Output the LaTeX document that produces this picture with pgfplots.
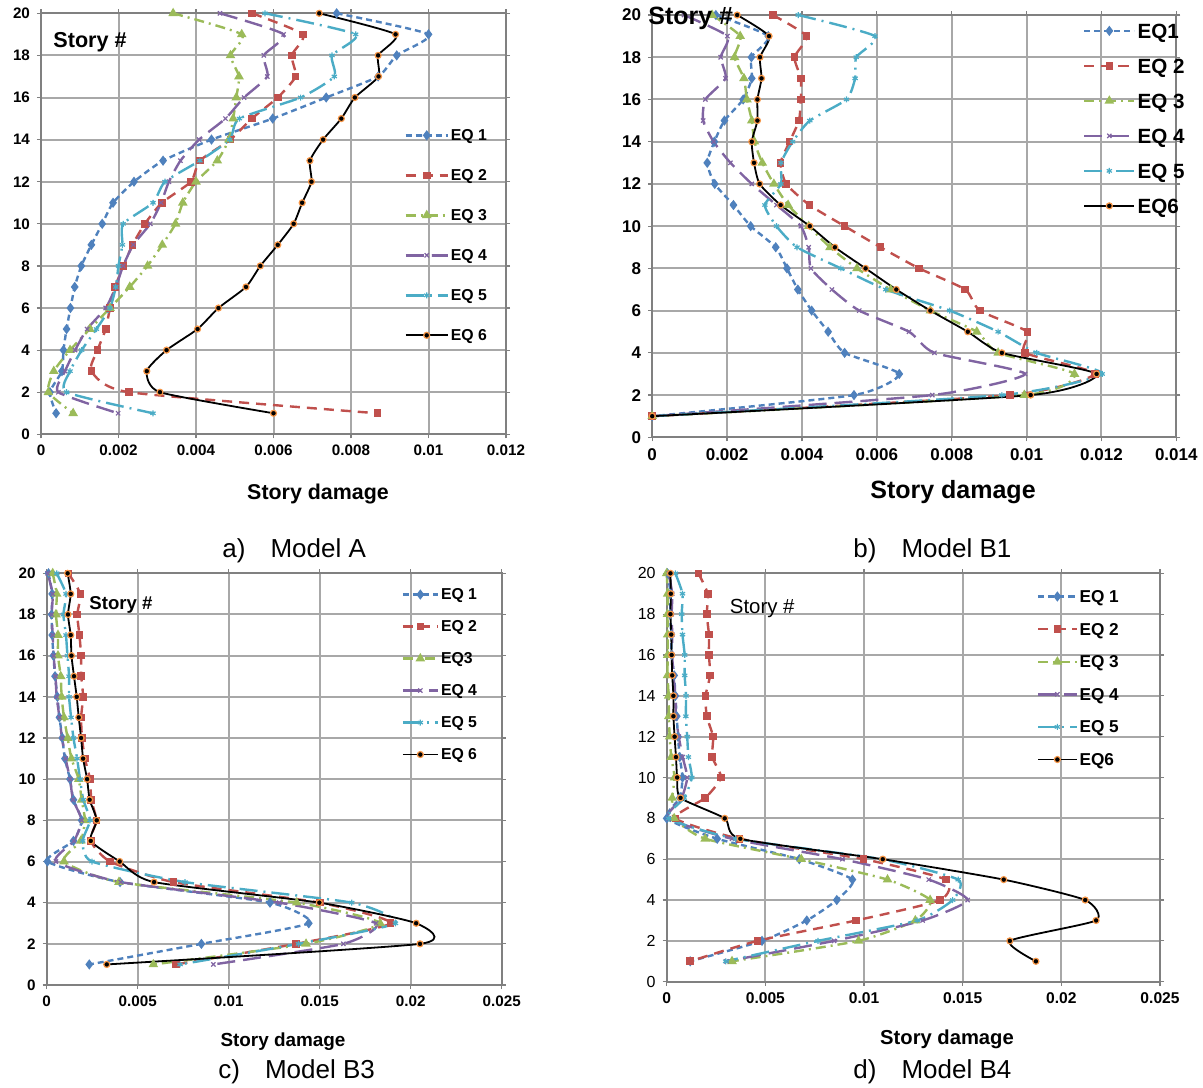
\documentclass[border=0pt]{standalone}
\usepackage{fontspec}
\setmainfont{Liberation Sans}
\usepackage{pgfplots}
\pgfplotsset{compat=1.18}
\definecolor{cA}{HTML}{4F81BD}
\definecolor{cB}{HTML}{C0504D}
\definecolor{cC}{HTML}{9BBB59}
\definecolor{cD}{HTML}{8064A2}
\definecolor{cE}{HTML}{4BACC6}
\definecolor{cF}{HTML}{F79646}
\definecolor{gridg}{HTML}{A8A8A8}
\pgfplotsset{
  storyaxis/.style={scale only axis, anchor=south west,
    ymin=0, ymax=20, ytick={0,2,...,20},
    yticklabels={0,2,4,6,8,10,12,14,16,18,20},
    scaled x ticks=false, scaled y ticks=false,
    grid=major, grid style={gridg, line width=1pt},
    axis line style={gray, line width=1pt},
    tick style={gray, line width=0.6pt}, tick align=outside, major tick length=2pt,
    clip=false, legend cell align=left,
    legend style={draw=none, fill=none, anchor=north west,
      nodes={inner sep=1pt}},
  },
  sm/.style={smooth, tension=0.35},
  eq1/.style={color=cA, line width=1.2pt, dash pattern=on 3pt off 2pt, sm,
    mark=diamond*, mark size=1.6pt, mark options={solid}},
  eq2/.style={color=cB, line width=1.2pt, dash pattern=on 5pt off 3.5pt, sm,
    mark=square*, mark size=1.3pt, mark options={solid}},
  eq3/.style={color=cC, line width=1.2pt, dash pattern=on 5pt off 2.5pt on 1pt off 2.5pt, sm,
    mark=triangle*, mark size=1.6pt, mark options={solid}},
  eq4/.style={color=cD, line width=1.2pt, dash pattern=on 9pt off 4pt, sm,
    mark=x, mark size=1.5pt, mark options={solid, line width=0.6pt}},
  eq5/.style={color=cE, line width=1.2pt, dash pattern=on 9pt off 3pt on 1pt off 3pt, sm,
    mark=asterisk, mark size=1.5pt, mark options={solid, line width=0.6pt}},
  eq6/.style={color=black, line width=0.9pt, solid, sm,
    mark=*, mark size=1.5pt, mark options={solid, fill=black, draw=cF, line width=0.6pt}},
}
\begin{document}
\begin{tikzpicture}
\useasboundingbox (0pt,0pt) rectangle (601.5pt,-543.5pt);

% ---------------- a) Model A
\begin{axis}[storyaxis, at={(20.5pt,-217.15pt)}, width=232.5pt, height=210.5pt,
  xmin=0, xmax=0.012, xtick={0,0.002,0.004,0.006,0.008,0.01,0.012},
  xticklabels={0,0.002,0.004,0.006,0.008,0.01,0.012},
  ticklabel style={font=\bfseries\fontsize{7.6}{9}\selectfont},
  legend image code/.code={\draw[mark repeat=2,mark phase=2,#1] plot coordinates {(0pt,0pt)(10.5pt,0pt)(21pt,0pt)};},
  legend style={at={(0.768,0.742)}, font=\bfseries\fontsize{7.9}{9}\selectfont,
    nodes={text height=6pt, text depth=1pt}, row sep=11pt,
    /tikz/every even column/.append style={column sep=1pt}},
]
\addplot[eq1] coordinates {(0.00763,20)(0.0100,19)(0.00918,18)(0.0087,17)(0.00736,16)(0.00598,15)(0.0044,14)(0.00315,13)(0.0024,12)(0.00186,11)(0.00158,10)(0.0013,9)(0.00104,8)(0.00087,7)(0.00076,6)(0.00066,5)(0.00058,4)(0.00054,3)(0.00023,2)(0.00039,1)};
\addlegendentry{EQ 1}
\addplot[eq2] coordinates {(0.00545,20)(0.00676,19)(0.00647,18)(0.00657,17)(0.00611,16)(0.00544,15)(0.00489,14)(0.0041,13)(0.00387,12)(0.00312,11)(0.00268,10)(0.00236,9)(0.00213,8)(0.00191,7)(0.00178,6)(0.00167,5)(0.00146,4)(0.0013,3)(0.00227,2)(0.00868,1)};
\addlegendentry{EQ 2}
\addplot[eq3] coordinates {(0.00341,20)(0.00518,19)(0.00489,18)(0.00511,17)(0.00504,16)(0.00496,15)(0.00485,14)(0.00455,13)(0.004,12)(0.00366,11)(0.00347,10)(0.00313,9)(0.00275,8)(0.00229,7)(0.00178,6)(0.00126,5)(0.00075,4)(0.00033,3)(0.00019,2)(0.00083,1)};
\addlegendentry{EQ 3}
\addplot[eq4] coordinates {(0.00462,20)(0.00626,19)(0.00575,18)(0.00584,17)(0.00524,16)(0.00476,15)(0.00408,14)(0.0036,13)(0.0033,12)(0.0031,11)(0.00282,10)(0.00238,9)(0.00212,8)(0.00193,7)(0.00167,6)(0.00119,5)(0.00088,4)(0.00062,3)(0.00045,2)(0.00199,1)};
\addlegendentry{EQ 4}
\addplot[eq5] coordinates {(0.00578,20)(0.00812,19)(0.00751,18)(0.00757,17)(0.0067,16)(0.00512,15)(0.00487,14)(0.0041,13)(0.0032,12)(0.00289,11)(0.00212,10)(0.0021,9)(0.002,8)(0.00193,7)(0.00178,6)(0.00143,5)(0.00105,4)(0.00075,3)(0.00066,2)(0.00289,1)};
\addlegendentry{EQ 5}
\addplot[eq6] coordinates {(0.00718,20)(0.00915,19)(0.0087,18)(0.00871,17)(0.0081,16)(0.00775,15)(0.00728,14)(0.00694,13)(0.00698,12)(0.00674,11)(0.00652,10)(0.00611,9)(0.00566,8)(0.00529,7)(0.00458,6)(0.00404,5)(0.00324,4)(0.00273,3)(0.00307,2)(0.0060,1)};
\addlegendentry{EQ 6}
\end{axis}

% ---------------- b) Model B1
\begin{axis}[storyaxis, at={(326.1pt,-218.65pt)}, width=262.05pt, height=211.15pt,
  xmin=0, xmax=0.014, xtick={0,0.002,0.004,0.006,0.008,0.01,0.012,0.014},
  xticklabels={0,0.002,0.004,0.006,0.008,0.01,0.012,0.014},
  ticklabel style={font=\bfseries\fontsize{8.5}{10}\selectfont},
  legend image code/.code={\draw[mark repeat=2,mark phase=2,#1] plot coordinates {(0pt,0pt)(12.5pt,0pt)(25pt,0pt)};},
  legend style={at={(0.81,0.997)}, font=\bfseries\fontsize{10.3}{12}\selectfont,
    nodes={text height=7.7pt, text depth=0.5pt}, row sep=7.3pt,
    /tikz/every even column/.append style={column sep=1pt}},
]
\addplot[eq1] coordinates {(0.0017,20)(0.0031,19)(0.00265,18)(0.00266,17)(0.00243,16)(0.00193,15)(0.00166,14)(0.00147,13)(0.00167,12)(0.00217,11)(0.00263,10)(0.0033,9)(0.0036,8)(0.00389,7)(0.00426,6)(0.0047,5)(0.00514,4)(0.0066,3)(0.00539,2)(0,1)};
\addlegendentry{EQ1}
\addplot[eq2] coordinates {(0.00322,20)(0.00412,19)(0.0038,18)(0.00397,17)(0.00397,16)(0.00392,15)(0.00367,14)(0.00343,13)(0.00358,12)(0.0042,11)(0.00514,10)(0.0061,9)(0.00713,8)(0.00836,7)(0.00875,6)(0.01002,5)(0.00996,4)(0.01182,3)(0.00955,2)(0,1)};
\addlegendentry{EQ 2}
\addplot[eq3] coordinates {(0.0016,20)(0.00235,19)(0.0022,18)(0.00245,17)(0.00253,16)(0.00266,15)(0.00273,14)(0.00294,13)(0.00325,12)(0.00363,11)(0.00418,10)(0.00475,9)(0.00547,8)(0.00637,7)(0.00743,6)(0.00867,5)(0.00924,4)(0.01128,3)(0.00994,2)(0,1)};
\addlegendentry{EQ 3}
\addplot[eq4] coordinates {(0.00085,20)(0.00201,19)(0.00183,18)(0.00196,17)(0.00142,16)(0.00136,15)(0.00164,14)(0.00209,13)(0.00266,12)(0.00332,11)(0.00397,10)(0.00418,9)(0.00424,8)(0.0048,7)(0.00553,6)(0.00686,5)(0.00754,4)(0.00996,3)(0.00748,2)(0,1)};
\addlegendentry{EQ 4}
\addplot[eq5] coordinates {(0.0039,20)(0.00595,19)(0.00545,18)(0.00542,17)(0.00519,16)(0.00421,15)(0.00375,14)(0.00344,13)(0.00344,12)(0.00301,11)(0.00332,10)(0.00387,9)(0.00504,8)(0.00624,7)(0.00795,6)(0.00924,5)(0.01027,4)(0.01202,3)(0.00934,2)(0,1)};
\addlegendentry{EQ 5}
\addplot[eq6] coordinates {(0.00227,20)(0.00312,19)(0.00288,18)(0.00292,17)(0.00281,16)(0.00281,15)(0.00266,14)(0.00272,13)(0.00287,12)(0.00343,11)(0.00421,10)(0.00488,9)(0.0057,8)(0.00652,7)(0.00743,6)(0.00843,5)(0.00934,4)(0.01187,3)(0.01011,2)(0,1)};
\addlegendentry{EQ6}
\end{axis}

% ---------------- c) Model B3
\begin{axis}[storyaxis, at={(23.35pt,-492.5pt)}, width=227.5pt, height=205.85pt,
  xmin=0, xmax=0.025, xtick={0,0.005,0.01,0.015,0.02,0.025},
  xticklabels={0,0.005,0.01,0.015,0.02,0.025},
  ticklabel style={font=\bfseries\fontsize{7.6}{9}\selectfont},
  legend image code/.code={\draw[mark repeat=2,mark phase=2,#1] plot coordinates {(0pt,0pt)(8.75pt,0pt)(17.5pt,0pt)};},
  legend style={at={(0.766,0.981)}, font=\bfseries\fontsize{7.9}{9}\selectfont,
    nodes={text height=6pt, text depth=1pt}, row sep=7pt,
    /tikz/every even column/.append style={column sep=1pt}},
]
\addplot[eq1] coordinates {(0.0001,20)(0.0003,19)(0.00027,18)(0.0003,17)(0.00037,16)(0.00046,15)(0.00059,14)(0.0007,13)(0.00086,12)(0.001,11)(0.00128,10)(0.00147,9)(0.00192,8)(0.00147,7)(0.00004,6)(0.00403,5)(0.01227,4)(0.0144,3)(0.0085,2)(0.00234,1)};
\addlegendentry{EQ 1}
\addplot[eq2] coordinates {(0.00119,20)(0.00185,19)(0.00168,18)(0.0018,17)(0.00189,16)(0.0019,15)(0.002,14)(0.00189,13)(0.00194,12)(0.0021,11)(0.00238,10)(0.00245,9)(0.00273,8)(0.00242,7)(0.00348,6)(0.00696,5)(0.015,4)(0.0189,3)(0.0137,2)(0.00709,1)};
\addlegendentry{EQ 2}
\addplot[eq3] coordinates {(0.00033,20)(0.00055,19)(0.00051,18)(0.00062,17)(0.00062,16)(0.00077,15)(0.00082,14)(0.00095,13)(0.00115,12)(0.00136,11)(0.00176,10)(0.00192,9)(0.0021,8)(0.00187,7)(0.00095,6)(0.00397,5)(0.01374,4)(0.01832,3)(0.01425,2)(0.00586,1)};
\addlegendentry{EQ3}
\addplot[eq4] coordinates {(0.00005,20)(0.00033,19)(0.00027,18)(0.00033,17)(0.00038,16)(0.00048,15)(0.00055,14)(0.0007,13)(0.00084,12)(0.00104,11)(0.00128,10)(0.00145,9)(0.00192,8)(0.0015,7)(0.00051,6)(0.00407,5)(0.01278,4)(0.0181,3)(0.0163,2)(0.00916,1)};
\addlegendentry{EQ 4}
\addplot[eq5] coordinates {(0.00055,20)(0.00106,19)(0.00092,18)(0.00106,17)(0.00114,16)(0.00123,15)(0.00123,14)(0.00134,13)(0.00147,12)(0.00167,11)(0.00183,10)(0.00201,9)(0.00238,8)(0.00198,7)(0.00249,6)(0.0076,5)(0.01676,4)(0.01916,3)(0.01383,2)(0.00733,1)};
\addlegendentry{EQ 5}
\addplot[eq6] coordinates {(0.00115,20)(0.00132,19)(0.00117,18)(0.00132,17)(0.00136,16)(0.0015,15)(0.00165,14)(0.00176,13)(0.00189,12)(0.002,11)(0.00222,10)(0.00236,9)(0.00275,8)(0.00242,7)(0.00401,6)(0.0059,5)(0.01498,4)(0.0203,3)(0.02051,2)(0.0033,1)};
\addlegendentry{EQ 6}
\end{axis}

% ---------------- d) Model B4
\begin{axis}[storyaxis, at={(333.35pt,-490.85pt)}, width=246.65pt, height=204.2pt,
  xmin=0, xmax=0.025, xtick={0,0.005,0.01,0.015,0.02,0.025},
  xticklabels={0,0.005,0.01,0.015,0.02,0.025},
  xticklabel style={font=\bfseries\fontsize{7.8}{9}\selectfont},
  yticklabel style={font=\fontsize{8}{9}\selectfont},
  legend image code/.code={\draw[mark repeat=2,mark phase=2,#1] plot coordinates {(0pt,0pt)(9.5pt,0pt)(19pt,0pt)};},
  legend style={at={(0.738,0.976)}, font=\bfseries\fontsize{8.6}{10}\selectfont,
    nodes={text height=6.5pt, text depth=0.5pt}, row sep=7.3pt,
    /tikz/every even column/.append style={column sep=1pt}},
]
\addplot[eq1] coordinates {(0.00004,20)(0.0002,19)(0.00017,18)(0.00023,17)(0.00025,16)(0.00038,15)(0.00044,14)(0.00051,13)(0.00057,12)(0.00066,11)(0.0008,10)(0.00066,9)(0,8)(0.00256,7)(0.00672,6)(0.00941,5)(0.00862,4)(0.0071,3)(0.00483,2)(0.00119,1)};
\addlegendentry{EQ 1}
\addplot[eq2] coordinates {(0.00161,20)(0.00208,19)(0.00203,18)(0.00214,17)(0.00214,16)(0.0022,15)(0.00197,14)(0.00203,13)(0.00235,12)(0.00231,11)(0.00275,10)(0.00195,9)(0.00044,8)(0.00369,7)(0.00998,6)(0.01415,5)(0.01386,4)(0.0096,3)(0.0046,2)(0.00119,1)};
\addlegendentry{EQ 2}
\addplot[eq3] coordinates {(0,20)(0.00005,19)(0.00004,18)(0.00005,17)(0.00005,16)(0.00004,15)(0.0001,14)(0.00011,13)(0.00015,12)(0.00023,11)(0.0004,10)(0.00028,9)(0.00038,8)(0.00195,7)(0.00682,6)(0.01119,5)(0.01335,4)(0.0126,3)(0.00972,2)(0.00331,1)};
\addlegendentry{EQ 3}
\addplot[eq4] coordinates {(0.0001,20)(0.00028,19)(0.00025,18)(0.00028,17)(0.00028,16)(0.00034,15)(0.00044,14)(0.00047,13)(0.00061,12)(0.00081,11)(0.00104,10)(0.00076,9)(0.0001,8)(0.00331,7)(0.0089,6)(0.01328,5)(0.01525,4)(0.01297,3)(0.00848,2)(0.00303,1)};
\addlegendentry{EQ 4}
\addplot[eq5] coordinates {(0.00044,20)(0.0008,19)(0.00076,18)(0.0008,17)(0.00091,16)(0.00091,15)(0.00098,14)(0.00097,13)(0.00104,12)(0.0011,11)(0.00127,10)(0.00089,9)(0.0001,8)(0.0035,7)(0.01089,6)(0.01477,5)(0.01449,4)(0.01269,3)(0.00767,2)(0.00299,1)};
\addlegendentry{EQ 5}
\addplot[eq6] coordinates {(0.00019,20)(0.00021,19)(0.00019,18)(0.00023,17)(0.00025,16)(0.00028,15)(0.00034,14)(0.00034,13)(0.0004,12)(0.00047,11)(0.00053,10)(0.0007,9)(0.00294,8)(0.00373,7)(0.01095,6)(0.01708,5)(0.02121,4)(0.02176,3)(0.01739,2)(0.01871,1)};
\addlegendentry{EQ6}
\end{axis}

% ---------------- texts
\node[anchor=west, inner sep=0pt, font=\bfseries\fontsize{10.8}{12}\selectfont] at (26.5pt,-21pt) {Story \#};
\node[anchor=west, inner sep=0pt, font=\bfseries\fontsize{12.5}{14}\selectfont] at (324pt,-9pt) {Story \#};
\node[anchor=west, inner sep=0pt, font=\bfseries\fontsize{9.3}{11}\selectfont] at (44.5pt,-302.5pt) {Story \#};
\node[anchor=west, inner sep=0pt, font=\fontsize{10.2}{12}\selectfont] at (364.75pt,-304pt) {Story \#};

\node[inner sep=0pt, font=\bfseries\fontsize{10.7}{12}\selectfont] at (159pt,-247pt) {Story damage};
\node[inner sep=0pt, font=\bfseries\fontsize{12.5}{14}\selectfont] at (476.5pt,-246pt) {Story damage};
\node[inner sep=0pt, font=\bfseries\fontsize{9.45}{11}\selectfont] at (141.5pt,-521pt) {Story damage};
\node[inner sep=0pt, font=\bfseries\fontsize{10.1}{12}\selectfont] at (473.5pt,-519.5pt) {Story damage};

\node[anchor=base west, inner sep=0pt, font=\fontsize{13}{15}\selectfont] at (111pt,-278.5pt) {a)\hspace{12.5pt}Model A};
\node[anchor=base west, inner sep=0pt, font=\fontsize{13}{15}\selectfont] at (426.5pt,-278.5pt) {b)\hspace{12.5pt}Model B1};
\node[anchor=base west, inner sep=0pt, font=\fontsize{13}{15}\selectfont] at (109pt,-539pt) {c)\hspace{12.5pt}Model B3};
\node[anchor=base west, inner sep=0pt, font=\fontsize{13}{15}\selectfont] at (426.5pt,-539pt) {d)\hspace{12.5pt}Model B4};
\end{tikzpicture}
\end{document}
